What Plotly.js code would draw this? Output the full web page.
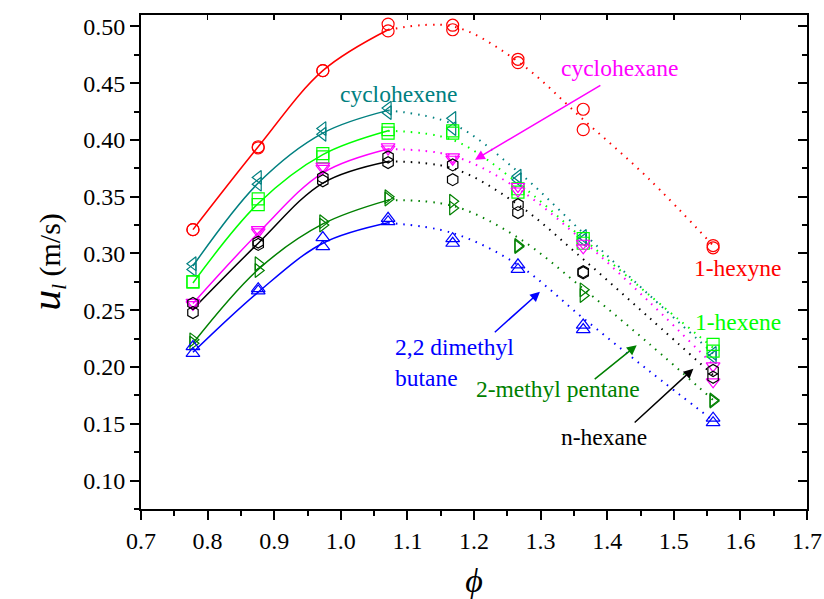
<!DOCTYPE html>
<html>
<head>
<meta charset="utf-8">
<script src="https://cdn.plot.ly/plotly-3.0.1.min.js"></script>
<style>html,body{margin:0;padding:0;background:#fff;}#chart{width:824px;height:599px;}</style>
</head>
<body>
<div id="chart"></div>
<script>
// Equivalence ratio values of measurements
var phi = [0.778, 0.876, 0.973, 1.071, 1.168, 1.266, 1.364, 1.559];

// Measured laminar burning velocity (two runs each), m/s
var hexyneA = [0.321, 0.394, 0.461, 0.502, 0.501, 0.471, 0.427, 0.307];
var hexyneB = [0.321, 0.393, 0.461, 0.496, 0.497, 0.468, 0.409, 0.305];
var cyclohexeneA = [0.291, 0.367, 0.410, 0.428, 0.419, 0.368, 0.315, 0.212];
var cyclohexeneB = [0.286, 0.361, 0.405, 0.424, 0.410, 0.365, 0.312, 0.209];
var hexeneA = [0.275, 0.348, 0.388, 0.409, 0.408, 0.357, 0.313, 0.220];
var hexeneB = [0.275, 0.343, 0.385, 0.406, 0.406, 0.354, 0.309, 0.214];
var cyclohexaneA = [0.257, 0.321, 0.377, 0.394, 0.385, 0.359, 0.309, 0.201];
var cyclohexaneB = [0.255, 0.319, 0.375, 0.392, 0.383, 0.355, 0.305, 0.187];
var nhexaneA = [0.256, 0.310, 0.367, 0.385, 0.378, 0.343, 0.284, 0.197];
var nhexaneB = [0.248, 0.308, 0.364, 0.380, 0.365, 0.336, 0.283, 0.191];
var methylpentaneA = [0.224, 0.291, 0.328, 0.350, 0.346, 0.307, 0.268, 0.171];
var methylpentaneB = [0.221, 0.285, 0.325, 0.348, 0.340, 0.306, 0.263, 0.170];
var dimethylbutaneA = [0.218, 0.269, 0.314, 0.331, 0.313, 0.290, 0.237, 0.155];
var dimethylbutaneB = [0.212, 0.267, 0.306, 0.328, 0.309, 0.286, 0.233, 0.151];

// Fitted curves
var fitPhiSolid = [0.778, 0.876, 0.973, 1.071];
var fitPhiDotted = [1.071, 1.168, 1.266, 1.364, 1.462, 1.559];
var hexyneFitSolid = [0.321, 0.394, 0.461, 0.497];
var hexyneFitDotted = [0.497, 0.500, 0.469, 0.418, 0.366, 0.307];
var cyclohexeneFitSolid = [0.289, 0.362, 0.406, 0.426];
var cyclohexeneFitDotted = [0.426, 0.414, 0.372, 0.318, 0.264, 0.212];
var hexeneFitSolid = [0.274, 0.344, 0.387, 0.408];
var hexeneFitDotted = [0.408, 0.400, 0.362, 0.313, 0.264, 0.217];
var cyclohexaneFitSolid = [0.256, 0.318, 0.371, 0.392];
var cyclohexaneFitDotted = [0.392, 0.386, 0.357, 0.311, 0.258, 0.202];
var nhexaneFitSolid = [0.251, 0.309, 0.362, 0.381];
var nhexaneFitDotted = [0.381, 0.375, 0.343, 0.295, 0.244, 0.193];
var methylpentaneFitSolid = [0.221, 0.286, 0.326, 0.347];
var methylpentaneFitDotted = [0.347, 0.342, 0.314, 0.269, 0.221, 0.171];
var dimethylbutaneFitSolid = [0.213, 0.266, 0.309, 0.327];
var dimethylbutaneFitDotted = [0.327, 0.318, 0.290, 0.243, 0.197, 0.153];

var xTicks = [0.7, 0.8, 0.9, 1.0, 1.1, 1.2, 1.3, 1.4, 1.5, 1.6, 1.7];
var yTicks = [0.10, 0.15, 0.20, 0.25, 0.30, 0.35, 0.40, 0.45, 0.50];

var series = [
  {name: '1-hexyne', color: '#FF0000', symbol: 'circle-open', A: hexyneA, B: hexyneB, fs: hexyneFitSolid, fd: hexyneFitDotted},
  {name: 'cyclohexene', color: '#008080', symbol: 'triangle-left-open', A: cyclohexeneA, B: cyclohexeneB, fs: cyclohexeneFitSolid, fd: cyclohexeneFitDotted},
  {name: '1-hexene', color: '#00FF00', symbol: 'square-open', A: hexeneA, B: hexeneB, fs: hexeneFitSolid, fd: hexeneFitDotted},
  {name: 'cyclohexane', color: '#FF00FF', symbol: 'triangle-down-open', A: cyclohexaneA, B: cyclohexaneB, fs: cyclohexaneFitSolid, fd: cyclohexaneFitDotted},
  {name: 'n-hexane', color: '#000000', symbol: 'hexagon-open', A: nhexaneA, B: nhexaneB, fs: nhexaneFitSolid, fd: nhexaneFitDotted},
  {name: '2-methyl pentane', color: '#008000', symbol: 'triangle-right-open', A: methylpentaneA, B: methylpentaneB, fs: methylpentaneFitSolid, fd: methylpentaneFitDotted},
  {name: '2,2 dimethyl butane', color: '#0000FF', symbol: 'triangle-up-open', A: dimethylbutaneA, B: dimethylbutaneB, fs: dimethylbutaneFitSolid, fd: dimethylbutaneFitDotted}
];

var traces = [];
series.forEach(function (s) {
  traces.push({x: fitPhiSolid, y: s.fs, mode: 'lines', line: {color: s.color, width: 1.5, shape: 'spline', smoothing: 1}, showlegend: false, hoverinfo: 'skip'});
  traces.push({x: fitPhiDotted, y: s.fd, mode: 'lines', line: {color: s.color, width: 2, shape: 'spline', smoothing: 1, dash: '1.5px,6px'}, showlegend: false, hoverinfo: 'skip'});
});
series.forEach(function (s) {
  [s.A, s.B].forEach(function (vals) {
    traces.push({x: phi, y: vals, mode: 'markers', name: s.name, marker: {symbol: s.symbol, size: 12, color: s.color, line: {color: s.color, width: 1.2}}, showlegend: false});
  });
});
// mirror frame axes (top/right with inward ticks)
traces.push({x: [], y: [], xaxis: 'x2', yaxis: 'y2', mode: 'markers', showlegend: false, hoverinfo: 'skip'});

var font = '"Liberation Serif", "Times New Roman", Times, serif';
var xr = [0.7, 1.7], yr = [0.075, 0.51];
var af = 23.5;

var layout = {
  width: 824, height: 599,
  margin: {l: 141, r: 17, t: 15, b: 90},
  paper_bgcolor: '#fff', plot_bgcolor: '#fff',
  font: {family: font, size: 24, color: '#000'},
  showlegend: false,
  xaxis: {
    range: xr, autorange: false, tickvals: xTicks, ticktext: xTicks.map(function (v) { return v.toFixed(1); }),
    ticks: 'outside', ticklen: 9, tickwidth: 2, tickcolor: '#000',
    showline: true, linewidth: 2, linecolor: '#000', showgrid: false, zeroline: false,
    minor: {ticks: 'outside', dtick: 0.05, tick0: 0.7, ticklen: 5, tickwidth: 2, tickcolor: '#000', showgrid: false},
    tickfont: {family: font, size: 24},
    title: {text: '<i>ϕ</i>', font: {family: font, size: 34}, standoff: 22}
  },
  yaxis: {
    range: yr, autorange: false, tickvals: yTicks, ticktext: yTicks.map(function (v) { return v.toFixed(2); }),
    ticks: 'outside', ticklen: 9, tickwidth: 2, tickcolor: '#000',
    showline: true, linewidth: 2, linecolor: '#000', showgrid: false, zeroline: false,
    minor: {ticks: 'outside', dtick: 0.025, tick0: 0.075, ticklen: 5, tickwidth: 2, tickcolor: '#000', showgrid: false},
    tickfont: {family: font, size: 24},
    title: {text: '<i><span style="font-size:42px">u</span><sub>l</sub></i> (m/s)', font: {family: font, size: 30}, standoff: 14}
  },
  xaxis2: {
    overlaying: 'x', side: 'top', range: xr, autorange: false, tickvals: xTicks, showticklabels: false,
    ticks: 'inside', ticklen: 5, tickwidth: 1.5, tickcolor: '#000',
    showline: true, linewidth: 2, linecolor: '#000', showgrid: false, zeroline: false
  },
  yaxis2: {
    overlaying: 'y', side: 'right', range: yr, autorange: false, tickvals: yTicks, showticklabels: false,
    ticks: 'inside', ticklen: 9, tickwidth: 2, tickcolor: '#000',
    showline: true, linewidth: 2, linecolor: '#000', showgrid: false, zeroline: false,
    minor: {ticks: 'inside', dtick: 0.025, tick0: 0.075, ticklen: 5, tickwidth: 2, tickcolor: '#000', showgrid: false}
  },
  annotations: [
    {x: 1.596, y: 0.287, text: '1-hexyne', showarrow: false, font: {family: font, size: af, color: '#FF0000'}},
    {x: 1.596, y: 0.2395, text: '1-hexene', showarrow: false, font: {family: font, size: af, color: '#00FF00'}},
    {x: 1.086, y: 0.440, text: 'cyclohexene', showarrow: false, font: {family: font, size: af, color: '#008080'}},
    {x: 1.419, y: 0.463, text: 'cyclohexane', showarrow: false, font: {family: font, size: af, color: '#FF00FF'}},
    {x: 1.078, y: 0.204, text: '2,2 dimethyl<br>butane', xanchor: 'left', align: 'left', showarrow: false, font: {family: font, size: af, color: '#0000FF'}},
    {x: 1.3265, y: 0.1804, text: '2-methyl pentane', showarrow: false, font: {family: font, size: af, color: '#008000'}},
    {x: 1.395, y: 0.138, text: 'n-hexane', showarrow: false, font: {family: font, size: af, color: '#000000'}},
    {x: 1.2015, y: 0.3826, ax: 1.392, ay: 0.4488, axref: 'x', ayref: 'y', text: '', showarrow: true, arrowhead: 2, arrowsize: 1.3, arrowwidth: 1.5, arrowcolor: '#FF00FF'},
    {x: 1.299, y: 0.2663, ax: 1.229, ay: 0.2295, axref: 'x', ayref: 'y', text: '', showarrow: true, arrowhead: 2, arrowsize: 1.3, arrowwidth: 1.5, arrowcolor: '#0000FF'},
    {x: 1.4443, y: 0.2192, ax: 1.379, ay: 0.1883, axref: 'x', ayref: 'y', text: '', showarrow: true, arrowhead: 2, arrowsize: 1.3, arrowwidth: 1.5, arrowcolor: '#008000'},
    {x: 1.5294, y: 0.1986, ax: 1.439, ay: 0.150, axref: 'x', ayref: 'y', text: '', showarrow: true, arrowhead: 2, arrowsize: 1.3, arrowwidth: 1.5, arrowcolor: '#000000'}
  ]
};

Plotly.newPlot('chart', traces, layout, {displayModeBar: false, staticPlot: true});
</script>
</body>
</html>
